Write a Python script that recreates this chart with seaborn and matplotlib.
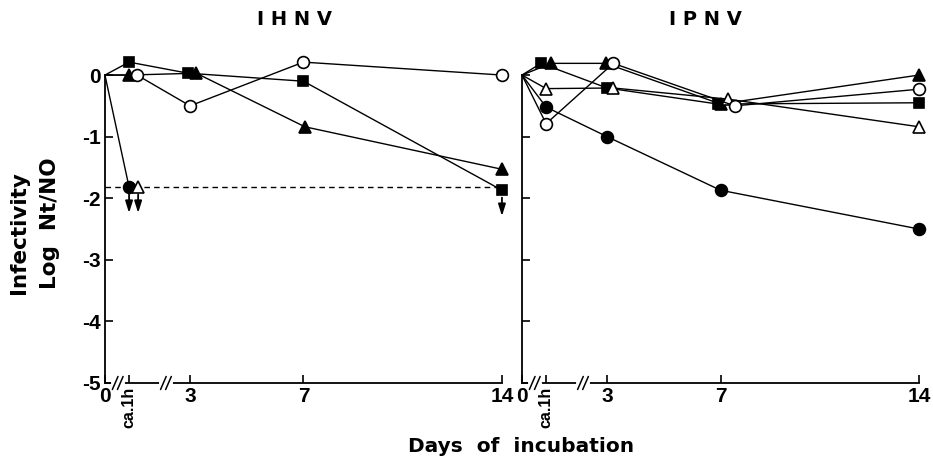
import numpy as np
import pandas as pd
import matplotlib
matplotlib.use("Agg")
import matplotlib.pyplot as plt
import seaborn as sns

# x axis: days of incubation (ca.1h drawn on an expanded, broken scale)
x_labels = ["0", "ca.1h", "3", "7", "14"]
x_pos = [0, 0.85, 3, 7, 14]

detection_limit = -1.82

# IHNV, log Nt/N0
ihnv_sq = [0, 0.21, 0.03, -0.10, -1.87]
ihnv_tri = [0, 0.0, 0.03, -0.84, -1.53]
ihnv_ocirc = [0, 0.0, -0.50, 0.21, 0.0]
ihnv_circ = [0, -1.82, np.nan, np.nan, np.nan]
ihnv_otri = [0, -1.82, np.nan, np.nan, np.nan]

# IPNV, log Nt/N0
ipnv_sq = [0, 0.19, -0.21, -0.47, -0.45]
ipnv_tri = [0, 0.19, 0.19, -0.47, 0.0]
ipnv_otri = [0, -0.22, -0.21, -0.39, -0.84]
ipnv_ocirc = [0, -0.79, 0.19, -0.50, -0.23]
ipnv_circ = [0, -0.52, -1.0, -1.87, -2.5]

# points under the detection limit (series, index)
ihnv_below = [("circ", 1), ("otri", 1), ("sq", 4)]

styles = {
    "sq": dict(marker="s", mfc="black", ms=7),
    "tri": dict(marker="^", mfc="black", ms=8),
    "circ": dict(marker="o", mfc="black", ms=8.5),
    "ocirc": dict(marker="o", mfc="white", ms=8.5),
    "otri": dict(marker="^", mfc="white", ms=8),
}

# small x shifts so overlapping symbols stay readable
ihnv_dodge = {"sq": [0, 0, -0.07, 0, 0], "tri": [0, 0, 0.22, 0.05, 0],
              "ocirc": [0, 0.28, 0, 0, 0], "circ": [0, 0, 0, 0, 0],
              "otri": [0, 0.32, 0, 0, 0]}
ipnv_dodge = {"sq": [0, -0.18, 0, -0.1, 0], "tri": [0, 0.18, -0.05, 0, 0],
              "otri": [0, 0, 0.22, 0.25, 0], "ocirc": [0, 0, 0.22, 0.5, 0],
              "circ": [0, 0, 0, 0, 0]}

sns.set_style("ticks")
plt.rcParams["font.family"] = ["Liberation Sans", "DejaVu Sans"]
plt.rcParams["font.weight"] = "bold"
for k in ["text.color", "axes.labelcolor", "xtick.color", "ytick.color", "axes.edgecolor"]:
    plt.rcParams[k] = "black"
label_font = ["DejaVu Sans"]


def draw_panel(ax, series, dodge, no_line=()):
    for key, vals in series.items():
        df = pd.DataFrame({"day": np.array(x_pos) + np.array(dodge[key]), "log": vals}).dropna()
        st = styles[key]
        sns.lineplot(data=df, x="day", y="log", ax=ax, color="black", lw=1.0,
                     linestyle="none" if key in no_line else "-",
                     marker=st["marker"], markersize=st["ms"], markerfacecolor=st["mfc"],
                     markeredgecolor="black", markeredgewidth=1.2,
                     markevery=slice(1, None), clip_on=False, sort=False, errorbar=None)


def axis_break(ax, x):
    trans = ax.get_xaxis_transform()
    ax.plot([x - 0.17, x + 0.17], [0, 0], color="white", lw=3, transform=trans, clip_on=False, zorder=5)
    for dx in (-0.09, 0.09):
        ax.plot([x + dx - 0.1, x + dx + 0.1], [-0.02, 0.02], color="black", lw=1.1,
                transform=trans, clip_on=False, zorder=6)


def style_axes(ax, show_ylabels):
    ax.set_xlim(0, 14)
    ax.set_ylim(-5, 0.3)
    sns.despine(ax=ax)
    ax.spines["left"].set_bounds(-5, 0)
    ax.spines["left"].set_linewidth(1.3)
    ax.spines["bottom"].set_linewidth(1.3)
    ax.set_yticks([0, -1, -2, -3, -4, -5])
    if show_ylabels:
        ax.set_yticklabels(["0", "-1", "-2", "-3", "-4", "-5"])
    else:
        ax.set_yticklabels([])
    ax.set_xticks(x_pos)
    ax.set_xticklabels(x_labels)
    ax.tick_params(axis="both", direction="in", length=6, width=1.2, labelsize=15, pad=3,
                   colors="black")
    lbl = ax.get_xticklabels()[1]
    lbl.set_rotation(90)
    lbl.set_fontsize(11.5)
    ax.set_xlabel("")
    ax.set_ylabel("")
    for t in ax.get_xticklabels() + ax.get_yticklabels():
        t.set_fontweight("bold")
    axis_break(ax, 0.45)
    axis_break(ax, 2.15)


fig = plt.figure(figsize=(9.33, 4.63), dpi=100)
ax1 = fig.add_axes([0.1125, 0.1728, 0.4255, 0.705])
ax2 = fig.add_axes([0.5595, 0.1728, 0.4255, 0.705])

draw_panel(ax1, {"sq": ihnv_sq, "tri": ihnv_tri, "ocirc": ihnv_ocirc,
                 "circ": ihnv_circ, "otri": ihnv_otri}, ihnv_dodge, no_line=("otri",))
ax1.axhline(detection_limit, color="black", lw=1.0, ls=(0, (4, 3)), zorder=0)
ihnv_vals = {"sq": ihnv_sq, "circ": ihnv_circ, "otri": ihnv_otri}
for key, i in ihnv_below:
    x = x_pos[i] + ihnv_dodge[key][i]
    y = ihnv_vals[key][i]
    ax1.annotate("", xy=(x, y - 0.42), xytext=(x, y - 0.12),
                 arrowprops=dict(arrowstyle="-|>,head_length=0.7,head_width=0.22",
                                 color="black", lw=1.3, shrinkA=0, shrinkB=0),
                 annotation_clip=False)

draw_panel(ax2, {"sq": ipnv_sq, "tri": ipnv_tri, "otri": ipnv_otri,
                 "ocirc": ipnv_ocirc, "circ": ipnv_circ}, ipnv_dodge)

style_axes(ax1, True)
style_axes(ax2, False)

fig.text(0.316, 0.958, "I H N V", ha="center", va="center", fontsize=14,
         fontweight="bold", family=label_font)
fig.text(0.756, 0.958, "I P N V", ha="center", va="center", fontsize=14,
         fontweight="bold", family=label_font)
fig.text(0.020, 0.497, "Infectivity", rotation=90, ha="center", va="center", fontsize=15.5,
         fontweight="bold", family=label_font)
fig.text(0.054, 0.518, "Log  Nt/NO", rotation=90, ha="center", va="center", fontsize=15.5,
         fontweight="bold", family=label_font)
fig.text(0.558, 0.036, "Days  of  incubation", ha="center", va="center", fontsize=14.5,
         fontweight="bold", family=label_font)

fig.savefig("out.png", dpi=100)
